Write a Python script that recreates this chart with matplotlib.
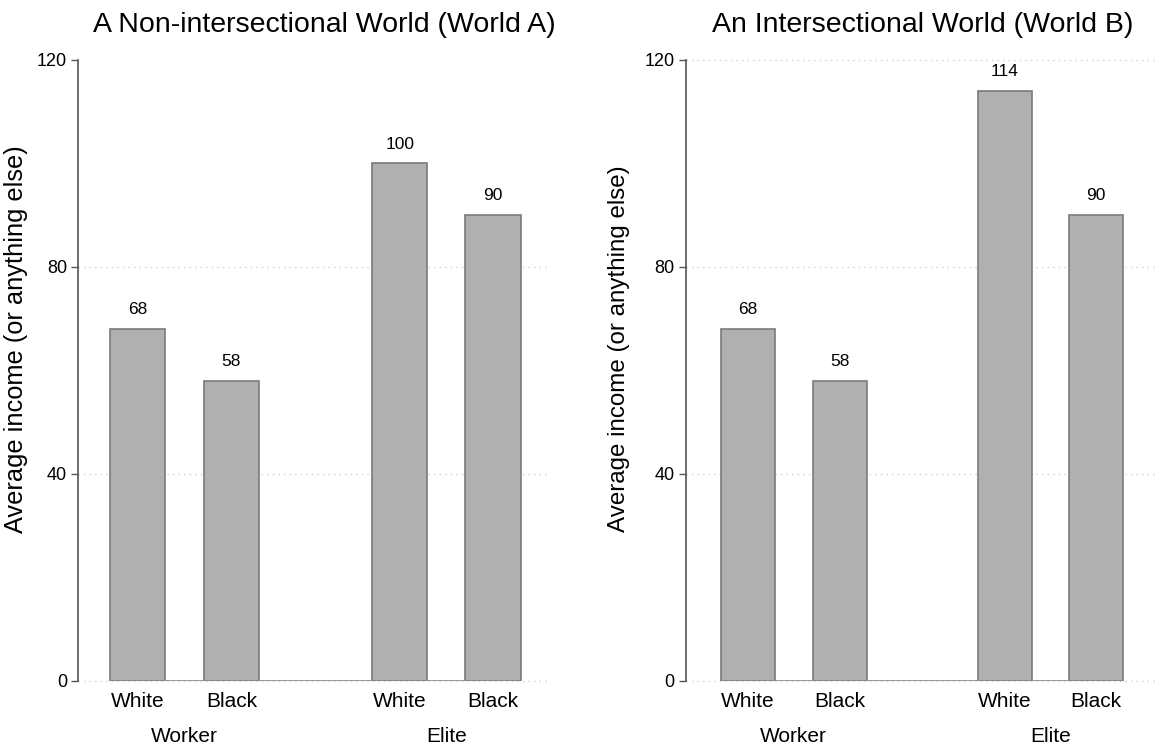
import matplotlib.pyplot as plt

plt.rcParams['font.family'] = ['Liberation Sans', 'DejaVu Sans']

# Data
groups = ["Worker", "Elite"]
races = ["White", "Black", "White", "Black"]
world_a = [68, 58, 100, 90]
world_b = [68, 58, 114, 90]
titles = ["A Non-intersectional World (World A)", "An Intersectional World (World B)"]
yticks = [0, 40, 80, 120]

positions = [0, 1, 2.79, 3.78]
bar_w = 0.59
bar_color = "#b0b0b0"
edge_color = "#7a7a7a"
grid_color = "#d0d0d0"

fig = plt.figure(figsize=(11.56, 7.48), dpi=100)
ax_a = fig.add_axes([0.0675, 0.0896, 0.4085, 0.8302])
ax_b = fig.add_axes([0.5934, 0.0896, 0.4066, 0.8302])


def draw_panel(ax, values, title, grid_top, xlim, title_x, ylab_size, ylab_xy):
    ax.bar(positions, values, width=bar_w, color=bar_color,
           edgecolor=edge_color, linewidth=1.2, zorder=3)
    for x, v in zip(positions, values):
        ax.text(x, v + 2.3, f"{v}", ha="center", va="bottom", fontsize=12.5)

    ax.set_ylim(0, 120)
    ax.set_xlim(*xlim)
    ax.set_yticks(yticks)
    ax.set_yticklabels([str(t) for t in yticks], fontsize=13)
    ax.tick_params(axis="y", length=5, width=1, color="#555555", pad=3)

    grid_vals = [t for t in yticks if t < 120 or grid_top]
    for g in grid_vals:
        ax.axhline(g, color=grid_color, linestyle=(0, (1, 3)), linewidth=1,
                   zorder=1, clip_on=False)
    # baseline under bars
    ax.hlines(0, positions[0] - bar_w / 2, positions[-1] + bar_w / 2,
              color="#888888", linewidth=1.2, zorder=4)

    ax.set_xticks(positions)
    ax.set_xticklabels(races, fontsize=15)
    ax.tick_params(axis="x", length=0, pad=8)

    for i, grp in enumerate(groups):
        center = (positions[2 * i] + positions[2 * i + 1]) / 2
        ax.text(center, -8.9, grp, ha="center", va="top", fontsize=15)

    for s in ["top", "right", "bottom"]:
        ax.spines[s].set_visible(False)
    ax.spines["left"].set_color("#555555")
    ax.spines["left"].set_linewidth(1.2)

    ax.set_ylabel("Average income (or anything else)", fontsize=ylab_size)
    ax.yaxis.set_label_coords(*ylab_xy)
    ax.set_title(title, fontsize=20.5, pad=20, x=title_x)


draw_panel(ax_a, world_a, titles[0], False, (-0.63, 4.39), 0.521, 18.3, (-0.106, 0.551))
draw_panel(ax_b, world_b, titles[1], True, (-0.67, 4.43), 0.504, 17.4, (-0.119, 0.535))

fig.savefig("out.png", dpi=100)
